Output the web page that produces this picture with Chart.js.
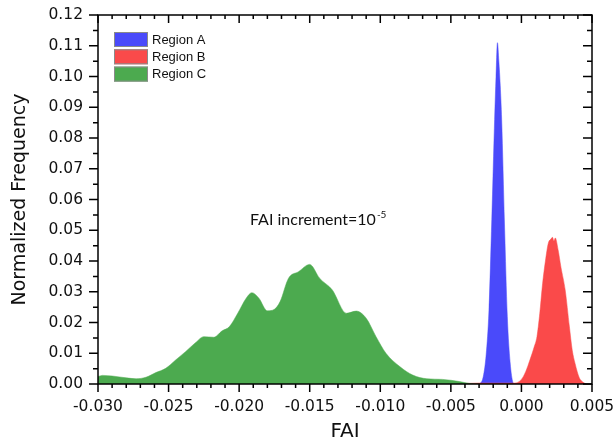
<!DOCTYPE html>
<html>
<head>
<meta charset="utf-8">
<script src="https://cdn.jsdelivr.net/npm/chart.js@4.4.1/dist/chart.umd.min.js"></script>
<style>
html, body { margin: 0; padding: 0; background: #fff; }
</style>
</head>
<body>
<canvas id="myChart" width="616" height="447"></canvas>
<script>
// series names and fill colours
var regionNames = ['Region A', 'Region B', 'Region C'];
var regionColors = ['#4a4afa', '#fa4a4a', '#4caa4f'];

// Region A (narrow blue peak)
var regionAX = [-0.0032, -0.0029, -0.0027, -0.0025, -0.0023, -0.0021, -0.0019, -0.0018, -0.0017, -0.0016, -0.0015, -0.0014, -0.0012, -0.0010, -0.0008, -0.0006, -0.0005];
var regionAY = [0, 0.0003, 0.0025, 0.0095, 0.024, 0.0535, 0.086, 0.100, 0.111, 0.105, 0.097, 0.086, 0.052, 0.022, 0.007, 0.0005, 0];

// Region B (red peak)
var regionBX = [-0.0050, -0.0030, -0.0005, 0.0000, 0.0003, 0.0006, 0.0009, 0.0011, 0.0013, 0.0015, 0.0017, 0.0019, 0.0021, 0.0022, 0.0023, 0.0024, 0.0026, 0.0028, 0.0031, 0.0034, 0.0036, 0.0038, 0.0041, 0.0043, 0.0046];
var regionBY = [0, 0.0003, 0.0003, 0.0015, 0.004, 0.0078, 0.012, 0.0154, 0.023, 0.0327, 0.040, 0.0457, 0.0472, 0.0477, 0.0465, 0.0475, 0.0436, 0.038, 0.0306, 0.0186, 0.011, 0.0067, 0.002, 0.0008, 0];

// Region C (broad green distribution)
var regionCX = [-0.0300, -0.0297, -0.0290, -0.0280, -0.0273, -0.0266, -0.0259, -0.0252, -0.0245, -0.0238, -0.0231, -0.0225, -0.0218, -0.0212, -0.0207, -0.0201, -0.0195, -0.0191, -0.0186, -0.0180, -0.0175, -0.0171, -0.0165, -0.0158, -0.0150, -0.0143, -0.0134, -0.0124, -0.0117, -0.0110, -0.0103, -0.0096, -0.0086, -0.0077, -0.0067, -0.0056, -0.0044, -0.0037, -0.0030];
var regionCY = [0.0024, 0.0028, 0.0026, 0.0020, 0.0017, 0.0022, 0.0037, 0.0051, 0.0078, 0.0105, 0.0134, 0.0154, 0.0152, 0.0173, 0.0186, 0.0230, 0.0279, 0.0297, 0.0279, 0.0238, 0.0243, 0.0268, 0.0344, 0.0365, 0.0389, 0.0344, 0.0306, 0.0230, 0.0237, 0.0214, 0.0154, 0.0100, 0.0056, 0.0029, 0.0017, 0.0015, 0.0008, 0.0002, 0];

// axis settings
var xMin = -0.030, xMax = 0.005, xStep = 0.005, xMinor = 0.001;
var yMin = 0, yMax = 0.12, yStep = 0.01, yMinor = 0.005;

var axisFont = '"DejaVu Sans", sans-serif';

function points(xs, ys) {
    return xs.map(function (x, i) { return {x: x, y: ys[i]}; });
}

function series(i, xs, ys) {
    return {
        label: regionNames[i],
        data: points(xs, ys),
        showLine: true,
        fill: 'origin',
        backgroundColor: regionColors[i],
        borderColor: regionColors[i],
        borderWidth: 0.5,
        pointRadius: 0,
        cubicInterpolationMode: 'monotone'
    };
}

// ticks on all four sides, a box, the legend and the note
var framePlugin = {
    id: 'frame',
    afterDraw: function (chart) {
        var ctx = chart.ctx;
        var ca = chart.chartArea;
        var xs = chart.scales.x, ys = chart.scales.y;
        ctx.save();
        ctx.strokeStyle = '#000';
        ctx.lineWidth = 1.5;
        ctx.strokeRect(ca.left, ca.top, ca.right - ca.left, ca.bottom - ca.top);

        var nx = Math.round((xMax - xMin) / xMinor);
        for (var k = 0; k <= nx; k++) {
            var px = xs.getPixelForValue(xMin + k * xMinor);
            var len = (k % 5 === 0) ? 8 : 4;
            ctx.beginPath();
            ctx.moveTo(px, ca.bottom); ctx.lineTo(px, ca.bottom + len);
            ctx.moveTo(px, ca.top); ctx.lineTo(px, ca.top + len);
            ctx.stroke();
        }
        var ny = Math.round((yMax - yMin) / yMinor);
        for (var j = 0; j <= ny; j++) {
            var py = ys.getPixelForValue(yMin + j * yMinor);
            var l2 = (j % 2 === 0) ? 9 : 5;
            ctx.beginPath();
            ctx.moveTo(ca.left, py); ctx.lineTo(ca.left - l2, py);
            ctx.moveTo(ca.right, py); ctx.lineTo(ca.right - l2, py);
            ctx.stroke();
        }

        // legend
        ctx.font = '13px "Liberation Sans", Arial, sans-serif';
        ctx.textBaseline = 'middle';
        ctx.textAlign = 'left';
        ctx.lineWidth = 1;
        for (var i = 0; i < regionNames.length; i++) {
            var top = 32 + i * 17.3;
            ctx.fillStyle = regionColors[i];
            ctx.fillRect(114, top, 34, 15);
            ctx.strokeStyle = '#8a8a8a';
            ctx.strokeRect(114.5, top + 0.5, 33, 14);
            ctx.fillStyle = '#111';
            ctx.fillText(regionNames[i], 152, top + 8);
        }

        // note
        ctx.fillStyle = '#111';
        ctx.textBaseline = 'alphabetic';
        ctx.font = '16px Lato, sans-serif';
        var note = 'FAI increment=10';
        ctx.fillText(note, 250, 225);
        var w = ctx.measureText(note).width;
        ctx.font = '10px Lato, sans-serif';
        ctx.fillText('-5', 250 + w + 1, 218);
        ctx.restore();
    }
};

var ctx = document.getElementById('myChart').getContext('2d');
var chart = new Chart(ctx, {
    type: 'scatter',
    data: {
        datasets: [
            series(2, regionCX, regionCY),
            series(1, regionBX, regionBY),
            series(0, regionAX, regionAY)
        ]
    },
    options: {
        responsive: false,
        animation: false,
        layout: { padding: { left: 0, right: 24, top: 15, bottom: 0 } },
        plugins: {
            legend: { display: false },
            tooltip: { enabled: false }
        },
        scales: {
            x: {
                type: 'linear',
                min: xMin,
                max: xMax,
                afterFit: function (scale) { scale.height = 63; },
                // invisible tick marks only push the labels down (real ticks come from the plugin)
                grid: { drawOnChartArea: false, drawTicks: true, tickLength: 14, tickColor: 'rgba(0,0,0,0)' },
                border: { display: false },
                ticks: {
                    stepSize: xStep,
                    padding: 0,
                    color: '#111',
                    font: { family: axisFont, size: 15.5 },
                    callback: function (v) {
                        if (Math.abs(v) < 1e-9) return '0.000';
                        return v.toFixed(3);
                    }
                },
                title: {
                    display: true,
                    text: 'FAI',
                    color: '#111',
                    font: { family: axisFont, size: 20 },
                    padding: { top: 0, bottom: 3 }
                }
            },
            y: {
                type: 'linear',
                min: yMin,
                max: yMax,
                afterFit: function (scale) { scale.width = 98; },
                grid: { drawOnChartArea: false, drawTicks: true, tickLength: 15, tickColor: 'rgba(0,0,0,0)' },
                border: { display: false },
                ticks: {
                    stepSize: yStep,
                    padding: 0,
                    color: '#111',
                    font: { family: axisFont, size: 15.5 },
                    callback: function (v) { return v.toFixed(2); }
                },
                title: {
                    display: true,
                    text: 'Normalized Frequency',
                    color: '#111',
                    font: { family: axisFont, size: 19 },
                    padding: { top: 9, bottom: 0 }
                }
            }
        }
    },
    plugins: [framePlugin]
});
</script>
</body>
</html>
